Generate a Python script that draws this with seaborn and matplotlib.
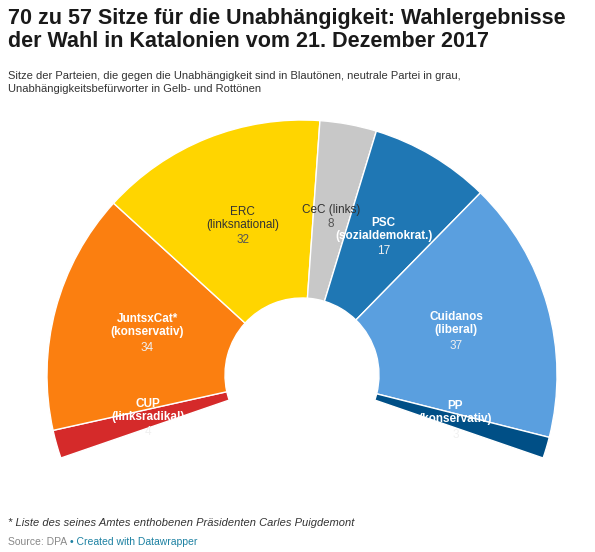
import numpy as np
import seaborn as sns
import matplotlib.pyplot as plt
from matplotlib.patches import Wedge

sns.set_theme(style="white")
plt.rcParams["font.family"] = ["Liberation Sans", "DejaVu Sans"]

parties = ["CUP", "JuntsxCat*", "ERC", "CeC (links)", "PSC", "Cuidanos", "PP"]
subtitles = ["(linksradikal)", "(konservativ)", "(linksnational)", "", "(sozialdemokrat.)", "(liberal)", "(konservativ)"]
seats = [4, 34, 32, 8, 17, 37, 3]
colors = ["#d52a2a", "#fb7f10", "#ffd500", "#c8c8c8", "#1f77b4", "#5a9fdf", "#004f86"]
dark_text = [False, False, True, True, False, False, False]

fig = plt.figure(figsize=(5.95, 5.52), dpi=100)
ax = fig.add_axes([0, 0, 1, 1])
ax.set_xlim(0, 595)
ax.set_ylim(0, 552)
ax.axis("off")

cx, cy = 302, 552 - 375
r_out, r_in = 255, 77
start, end = 199, -19
total = sum(seats)
ang = start
for p, s, n, c, dk in zip(parties, subtitles, seats, colors, dark_text):
    span = (start - end) * n / total
    a2 = ang - span
    ax.add_patch(Wedge((cx, cy), r_out, a2, ang, width=r_out - r_in,
                       facecolor=c, edgecolor="white", linewidth=1.0))
    mid = np.deg2rad((ang + a2) / 2)
    r_lab = 160
    x, y = cx + r_lab * np.cos(mid), cy + r_lab * np.sin(mid)
    tc = "#333333" if dk else "white"
    vc = "#555555" if dk else "#f0f0f0"
    name = p if not s else p + "\n" + s
    ax.text(x, y + 8, name, ha="center", va="center", fontsize=8.5, color=tc,
            fontweight="normal" if dk else "bold", linespacing=1.1)
    ax.text(x, y - 14 if s else y - 6, str(n), ha="center", va="center",
            fontsize=8.5, color=vc)
    ang = a2

fig.text(0.013, 0.985, "70 zu 57 Sitze für die Unabhängigkeit: Wahlergebnisse\nder Wahl in Katalonien vom 21. Dezember 2017",
         ha="left", va="top", fontsize=15.5, fontweight="bold", color="#1a1a1a", linespacing=1.1)
fig.text(0.013, 0.872, "Sitze der Parteien, die gegen die Unabhängigkeit sind in Blautönen, neutrale Partei in grau,\nUnabhängigkeitsbefürworter in Gelb- und Rottönen",
         ha="left", va="top", fontsize=8, color="#333333", linespacing=1.4)
fig.text(0.013, 0.052, "* Liste des seines Amtes enthobenen Präsidenten Carles Puigdemont",
         ha="left", va="center", fontsize=8, style="italic", color="#333333")
fig.text(0.013, 0.018, "Source: DPA", ha="left", va="center", fontsize=7.5, color="#888888")
fig.text(0.118, 0.018, "• Created with Datawrapper", ha="left", va="center", fontsize=7.5, color="#1d81a2")

fig.savefig("out.png", dpi=100)
